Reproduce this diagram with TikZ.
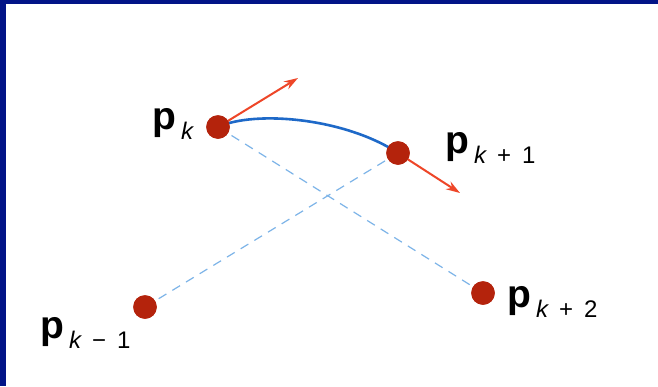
\documentclass[tikz,border=0pt]{standalone}
\usepackage{fontspec}
\setmainfont{Liberation Sans}
\usetikzlibrary{arrows.meta}
\definecolor{navy}{RGB}{2,20,135}
\definecolor{dotred}{RGB}{180,35,12}
\definecolor{arrred}{RGB}{238,70,40}
\definecolor{curveblue}{RGB}{30,105,200}
\definecolor{dashblue}{RGB}{125,180,232}
\newcommand{\ptlabel}[1]{{\fontsize{39}{39}\selectfont\bfseries p}\hspace{5pt}\raisebox{-10pt}{\fontsize{24}{24}\selectfont #1}}
\newcommand{\subsp}{\hspace{11pt}}
\tikzset{
  ctrlpt/.style={circle,fill=dotred,inner sep=0pt,minimum size=23.5pt},
  dashln/.style={draw=dashblue,line width=1.2pt,dash pattern=on 9pt off 7pt},
  tangent/.style={draw=arrred,line width=2pt,-{Stealth[length=14pt,width=9pt]}},
  splinecurve/.style={draw=curveblue,line width=2.6pt},
  lbl/.style={anchor=base west,inner sep=0pt}
}
\begin{document}
\begin{tikzpicture}[x=1pt,y=-1pt]
\useasboundingbox (0,0) rectangle (658,386);
\fill[navy] (0,0) rectangle (658,386);
\fill[white] (6,4) rectangle (658,386);
% points
\node[ctrlpt] (pk) at (218,127) {};
\node[ctrlpt] (pk1) at (398,153) {};
\node[ctrlpt] (pkm1) at (145,307) {};
\node[ctrlpt] (pk2) at (483,293) {};
\coordinate (tk) at (298,78);
\coordinate (tk1) at (460,193);
% dashed chords
\path[dashln] (pkm1.center) -- (pk1.center);
\path[dashln] (pk.center) -- (pk2.center);
% curve
\path[splinecurve] (pk.center) .. controls (255,110) and (345,118) .. (pk1.center);
% tangents
\path[tangent] (pk.center) -- (tk);
\path[tangent] (pk1.center) -- (tk1);
% redraw dots on top
\node[ctrlpt] at (pk) {};
\node[ctrlpt] at (pk1) {};
\node[ctrlpt] at (pkm1) {};
\node[ctrlpt] at (pk2) {};
% labels
\node[lbl] (lk) at (152,129) {\ptlabel{\itshape k}};
\node[lbl] (lk1) at (445,153) {\ptlabel{\itshape k\upshape\subsp+\subsp1}};
\node[lbl] (lkm1) at (40,338) {\ptlabel{\itshape k\upshape\subsp−\subsp1}};
\node[lbl] (lk2) at (507,307) {\ptlabel{\itshape k\upshape\subsp+\subsp2}};
\end{tikzpicture}
\end{document}
